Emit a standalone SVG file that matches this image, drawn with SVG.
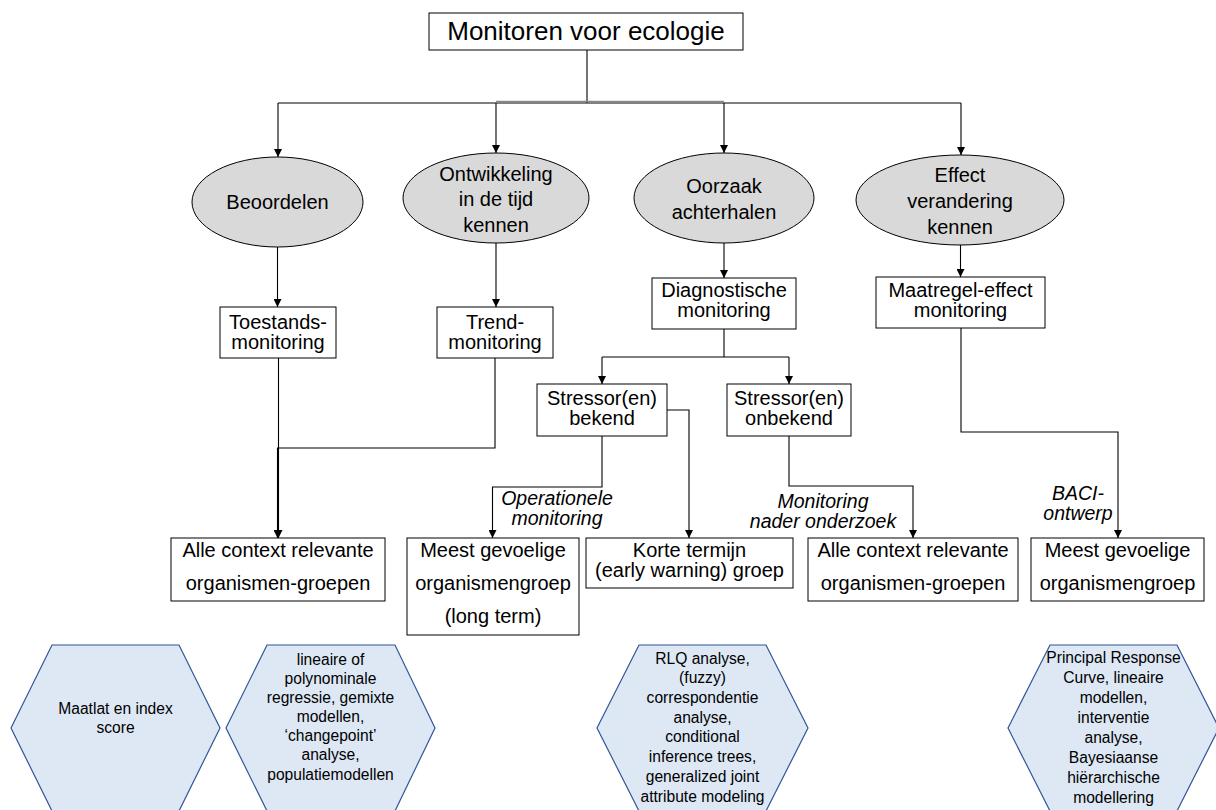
<svg xmlns="http://www.w3.org/2000/svg" width="1216" height="810" viewBox="0 0 1216 810">
<defs>
<marker id="arr" viewBox="0 0 10 10" refX="10" refY="5" markerWidth="8" markerHeight="8" markerUnits="userSpaceOnUse" orient="auto">
<path d="M0,0 L10,5 L0,10 Z" fill="#000"/>
</marker>
<style>
text{font-family:"Liberation Sans",Arial,sans-serif;fill:#000;text-anchor:middle}
.t26{font-size:26px}
.t20{font-size:20px}
.it{font-size:19.5px;font-style:italic}
.hx{font-size:15.6px}
.box{fill:#fff;stroke:#000;stroke-width:1}
.ell{fill:#d9d9d9;stroke:#000;stroke-width:1}
.hex{fill:#dee8f5;stroke:#2f5597;stroke-width:1.2}
.c{fill:none;stroke:#000;stroke-width:1.1}
.ca{fill:none;stroke:#000;stroke-width:1.1;marker-end:url(#arr)}
</style>
</defs>
<rect width="1216" height="810" fill="#fff"/>

<g id="connectors">
<path class="c" d="M587,50 V103"/>
<path class="c" d="M278,103 H961"/>
<path d="M496,101.5 H724" fill="none" stroke="#888" stroke-width="1.5"/>
<path class="ca" d="M278,103 V157"/>
<path class="ca" d="M496,103 V153"/>
<path class="ca" d="M724,103 V153"/>
<path class="ca" d="M961,103 V155"/>
<path class="ca" d="M277.5,247 V307"/>
<path class="ca" d="M496,243 V307"/>
<path class="ca" d="M724,243 V278"/>
<path class="ca" d="M960.5,245 V277"/>
<path class="ca" d="M278.5,358 V538"/>
<path class="ca" d="M495,358 V448 H277.5 V538"/>
<path class="c" d="M724,329 V357"/>
<path class="c" d="M602,357 H789"/>
<path class="ca" d="M602,357 V384"/>
<path class="ca" d="M789,357 V384"/>
<path class="ca" d="M602,436 V487 H492.5 V538"/>
<path class="ca" d="M667,410 H689 V538"/>
<path class="ca" d="M789,436 V486 H913 V538"/>
<path class="ca" d="M961,328 V432 H1118 V538"/>
<text class="it" x="557" y="505">Operationele</text>
<text class="it" x="557" y="525">monitoring</text>
<text class="it" x="823" y="508">Monitoring</text>
<text class="it" x="823" y="528">nader onderzoek</text>
<text class="it" x="1078" y="500">BACI-</text>
<text class="it" x="1078" y="520">ontwerp</text>
</g>

<g id="root">
<rect class="box" x="429" y="13" width="314" height="37"/>
<text class="t26" x="586" y="40">Monitoren voor ecologie</text>
</g>

<g id="beoordelen">
<ellipse class="ell" cx="277.5" cy="202" rx="85.5" ry="45"/>
<text class="t20" x="277.5" y="209">Beoordelen</text>
</g>
<g id="ontwikkeling">
<ellipse class="ell" cx="496" cy="198" rx="93" ry="45"/>
<text class="t20" x="496" y="181">Ontwikkeling</text>
<text class="t20" x="496" y="206">in de tijd</text>
<text class="t20" x="496" y="232">kennen</text>
</g>
<g id="oorzaak">
<ellipse class="ell" cx="724" cy="198" rx="90" ry="45"/>
<text class="t20" x="724" y="193">Oorzaak</text>
<text class="t20" x="724" y="219">achterhalen</text>
</g>
<g id="effect">
<ellipse class="ell" cx="960" cy="200" rx="104" ry="45"/>
<text class="t20" x="960" y="182">Effect</text>
<text class="t20" x="960" y="208">verandering</text>
<text class="t20" x="960" y="234">kennen</text>
</g>

<g id="toestands">
<rect class="box" x="220" y="307" width="116" height="51"/>
<text class="t20" x="278" y="329">Toestands-</text>
<text class="t20" x="278" y="349">monitoring</text>
</g>
<g id="trend">
<rect class="box" x="437" y="307" width="116" height="51"/>
<text class="t20" x="495" y="329">Trend-</text>
<text class="t20" x="495" y="349">monitoring</text>
</g>
<g id="diagnostische">
<rect class="box" x="652" y="278" width="144" height="51"/>
<text class="t20" x="724" y="297">Diagnostische</text>
<text class="t20" x="724" y="317">monitoring</text>
</g>
<g id="maatregel">
<rect class="box" x="876" y="277" width="169" height="51"/>
<text class="t20" x="960.5" y="297">Maatregel-effect</text>
<text class="t20" x="960.5" y="317">monitoring</text>
</g>

<g id="bekend">
<rect class="box" x="537" y="384" width="130" height="52"/>
<text class="t20" x="602" y="405">Stressor(en)</text>
<text class="t20" x="602" y="425">bekend</text>
</g>
<g id="onbekend">
<rect class="box" x="727" y="384" width="124" height="52"/>
<text class="t20" x="789" y="405">Stressor(en)</text>
<text class="t20" x="789" y="425">onbekend</text>
</g>

<g id="alle1">
<rect class="box" x="171" y="538" width="214" height="63"/>
<text class="t20" x="278" y="557">Alle context relevante</text>
<text class="t20" x="278" y="590">organismen-groepen</text>
</g>
<g id="meest1">
<rect class="box" x="407" y="538" width="172" height="97"/>
<text class="t20" x="493" y="557">Meest gevoelige</text>
<text class="t20" x="493" y="590">organismengroep</text>
<text class="t20" x="493" y="623">(long term)</text>
</g>
<g id="korte">
<rect class="box" x="586" y="538" width="207" height="50"/>
<text class="t20" x="689.5" y="557">Korte termijn</text>
<text class="t20" x="689.5" y="577">(early warning) groep</text>
</g>
<g id="alle2">
<rect class="box" x="808" y="538" width="210" height="63"/>
<text class="t20" x="913" y="557">Alle context relevante</text>
<text class="t20" x="913" y="590">organismen-groepen</text>
</g>
<g id="meest2">
<rect class="box" x="1031" y="538" width="173" height="63"/>
<text class="t20" x="1117.5" y="557">Meest gevoelige</text>
<text class="t20" x="1117.5" y="590">organismengroep</text>
</g>

<g id="hex1">
<polygon class="hex" points="11,728 52,645 179,645 220,728 179,811 52,811"/>
<text class="hx" x="115.5" y="714">Maatlat en index</text>
<text class="hx" x="115.5" y="733">score</text>
</g>
<g id="hex2">
<polygon class="hex" points="226,728 267,645 395,645 435,728 395,811 267,811"/>
<text class="hx" x="330.5" y="665">lineaire of</text>
<text class="hx" x="330.5" y="684">polynominale</text>
<text class="hx" x="330.5" y="703">regressie, gemixte</text>
<text class="hx" x="330.5" y="722">modellen,</text>
<text class="hx" x="330.5" y="741">‘changepoint’</text>
<text class="hx" x="330.5" y="760">analyse,</text>
<text class="hx" x="330.5" y="780">populatiemodellen</text>
</g>
<g id="hex3">
<polygon class="hex" points="597,728 639,645 766,645 808,728 766,811 639,811"/>
<text class="hx" x="702.5" y="664">RLQ analyse,</text>
<text class="hx" x="702.5" y="683">(fuzzy)</text>
<text class="hx" x="702.5" y="703">correspondentie</text>
<text class="hx" x="702.5" y="723">analyse,</text>
<text class="hx" x="702.5" y="742">conditional</text>
<text class="hx" x="702.5" y="762">inference trees,</text>
<text class="hx" x="702.5" y="782">generalized joint</text>
<text class="hx" x="702.5" y="802">attribute modeling</text>
</g>
<g id="hex4">
<polygon class="hex" points="1008,728 1050,645 1177,645 1219,728 1177,811 1050,811"/>
<text class="hx" x="1113.5" y="663">Principal Response</text>
<text class="hx" x="1113.5" y="683">Curve, lineaire</text>
<text class="hx" x="1113.5" y="703">modellen,</text>
<text class="hx" x="1113.5" y="723">interventie</text>
<text class="hx" x="1113.5" y="743">analyse,</text>
<text class="hx" x="1113.5" y="763">Bayesiaanse</text>
<text class="hx" x="1113.5" y="783">hiërarchische</text>
<text class="hx" x="1113.5" y="803">modellering</text>
</g>
</svg>
